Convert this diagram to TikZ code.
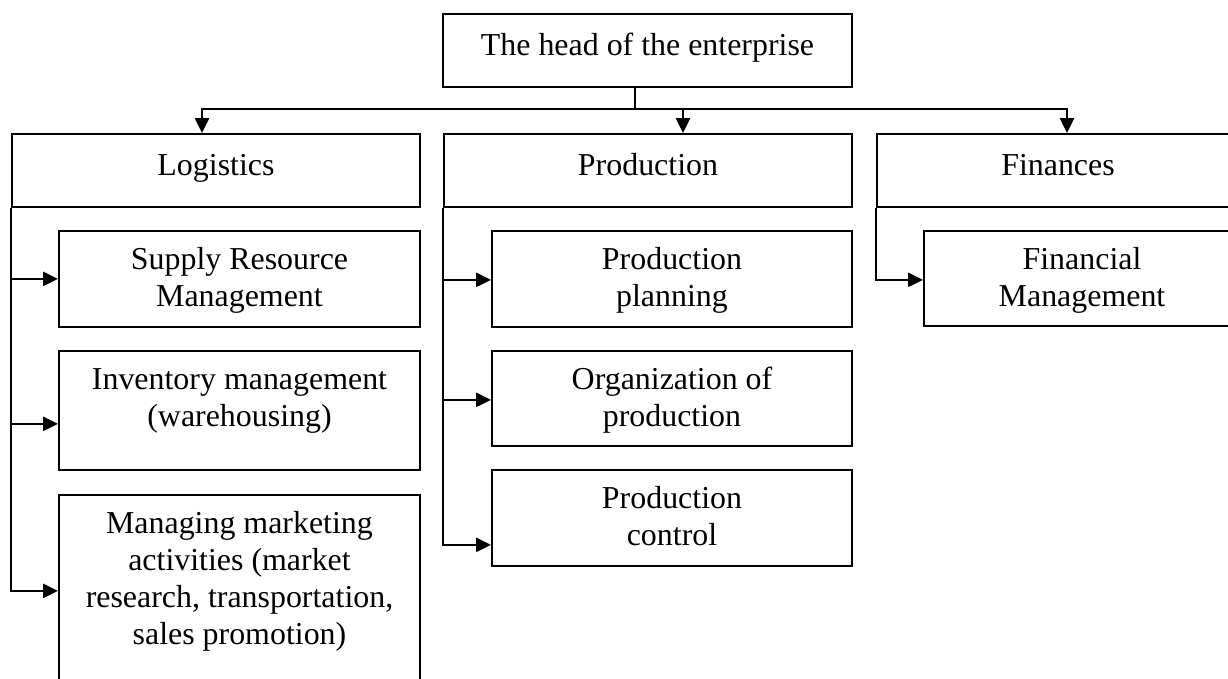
\documentclass[tikz,border=0pt]{standalone}
\usepackage{fontspec}
\setmainfont{Liberation Serif}
\usetikzlibrary{arrows.meta,positioning,calc}

\begin{document}
\begin{tikzpicture}[
    x=0.376pt, y=-0.376pt,
    line width=0.75pt,
    >={Triangle[length=5.6pt,width=5.3pt]},
    unit/.style={rectangle, draw, anchor=north west, align=flush center, inner sep=0pt, font=\fontsize{12}{13.9}\selectfont},
    dept/.style={unit, minimum width=#1*0.376pt, minimum height=27.4pt, text height=8pt, text depth=4pt},
    task/.style 2 args={unit, inner xsep=4pt, inner ysep=3pt, text width=#1*0.376pt-8pt, text height=11.5pt, text depth=#2*0.376pt-17.5pt}
]
    \useasboundingbox (0,0) rectangle (1228,679);

    % top of the structure
    \node[dept=409] (head) at (442,13) {The head of the enterprise};

    % departments
    \node[dept=408] (log)  at (11,133)  {Logistics};
    \node[dept=408] (prod) at (443,133) {Production};
    \node[dept=362] (fin)  at (876,133) {Finances};

    % tasks of each department
    \node[task={361}{96}]  (sup) at (58,230) {Supply Resource\\Management};
    \node[task={361}{119}] (inv) at (58,350) {Inventory management\\(warehousing)};
    \node[task={361}{240}] (mkt) at (58,494) {Managing marketing\\activities (market\\research, transportation,\\sales promotion)};
    \node[task={360}{96}]  (ppl) at (491,230) {Production\\planning};
    \node[task={360}{95}]  (org) at (491,350) {Organization of\\production};
    \node[task={360}{96}]  (pct) at (491,469) {Production\\control};
    \node[task={316}{95}]  (fmg) at (923,230) {Financial\\Management};

    % bus from the head to the departments
    \coordinate (bus) at (635,109);
    \coordinate (bl) at (202,109);
    \coordinate (bp) at (683,109);
    \coordinate (bf) at (1067,109);
    \draw (head.south -| bus) -- (bus);
    \draw[->] (bus) -- (bl) -- (bl |- log.north);
    \draw[->] (bus) -- (bf) -- (bf |- fin.north);
    \draw[->] (bp) -- (bp |- prod.north);

    % branches down the left side of each department
    \path (log.south west) ++(0,71) coordinate (l1) ++(0,145) coordinate (l2) ++(0,167) coordinate (l3);
    \path (prod.south west) ++(0,72) coordinate (p1) ++(0,120) coordinate (p2) ++(0,145) coordinate (p3);
    \path (fin.south west) ++(0,72) coordinate (f1);

    \draw[->] (log.south west) -- (l3) -- (l3 -| mkt.west);
    \draw[->] (prod.south west) -- (p3) -- (p3 -| pct.west);
    \draw[->] (fin.south west) -- (f1) -- (f1 -| fmg.west);
    \foreach \c/\t in {l1/sup, l2/inv, p1/ppl, p2/org}
        \draw[->] (\c) -- (\c -| \t.west);
\end{tikzpicture}
\end{document}
